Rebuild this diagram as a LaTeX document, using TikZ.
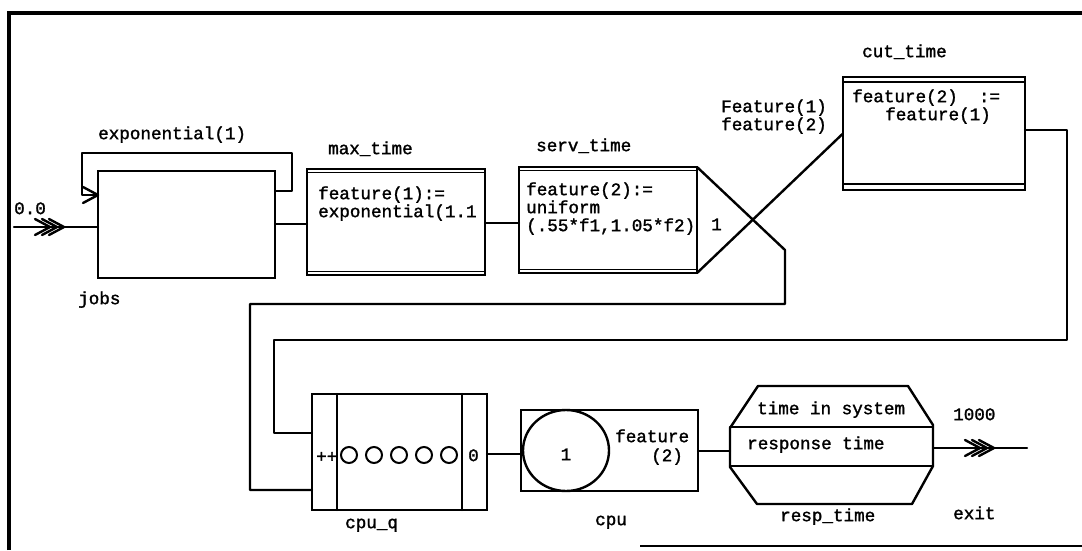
\documentclass[tikz,border=0pt]{standalone}
\usepackage{fontspec}
\setmonofont{Liberation Mono}
\newfontfamily\scanmono[RawFeature={embolden=1.6}]{Liberation Mono}
\newcommand\mychev[1]{\draw[conn] ([shift={(-15,-8)}]#1) -- (#1) -- ([shift={(-15,8)}]#1);}
\begin{document}
\begin{tikzpicture}[x=1pt,y=-1pt,
  conn/.style={line width=2.4pt, line cap=round, line join=round},
  boxst/.style={draw, line width=2.5pt, inner sep=0pt, outer sep=0pt, anchor=north west},
  txt/.style={font=\scanmono\fontsize{17.6}{20}\selectfont, inner sep=0pt, anchor=mid west},
  dbl/.style={line width=1.4pt}]
\useasboundingbox (0,0) rectangle (1082,550);

% frame
\draw[line width=4pt] (9,550) -- (9,13) -- (1082,13);
\draw[line width=2.5pt] (640,546) -- (1082,546);

% jobs
\node[boxst, minimum width=177pt, minimum height=107pt] (jobs) at (98,171) {};
\node[txt] (jobslbl) at (78,302) {jobs};
\node[txt] (explbl) at (98,137) {exponential(1)};
\node[txt] (zero) at (14,212) {0.0};
\coordinate (in) at (14,227);
\draw[conn] (in) -- (in -| jobs.west);
\coordinate (inA) at (50,227);
\coordinate (inB) at (57,227);
\coordinate (inC) at (64,227);
\mychev{inA}\mychev{inB}\mychev{inC}
\coordinate (fbA) at (292,191);
\coordinate (fbB) at (292,153);
\coordinate (fbC) at (82,153);
\coordinate (fbD) at (82,195);
\draw[conn] (jobs.east |- fbA) -- (fbA) -- (fbB) -- (fbC) -- (fbD) -- (jobs.west |- fbD);
\coordinate (fbtip) at (jobs.west |- fbD);
\mychev{fbtip}

% max_time
\node[boxst, minimum width=178pt, minimum height=106pt] (max) at (307,169) {};
\draw[dbl] ([yshift=-3.5pt]max.north west) -- ([yshift=-3.5pt]max.north east);
\draw[dbl] ([yshift=3.5pt]max.south west) -- ([yshift=3.5pt]max.south east);
\node[txt] (maxlbl) at (328,152) {max\_time};
\node[txt] (maxt1) at (318,197) {feature(1):=};
\node[txt] (maxt2) at (318,215) {exponential(1.1};
\coordinate (jm) at (0,224);
\draw[conn] (jobs.east |- jm) -- (max.west |- jm);

% serv_time
\node[boxst, minimum width=178pt, minimum height=106pt] (serv) at (519,167) {};
\draw[dbl] ([yshift=-3.5pt]serv.north west) -- ([yshift=-3.5pt]serv.north east);
\draw[dbl] ([yshift=3.5pt]serv.south west) -- ([yshift=3.5pt]serv.south east);
\node[txt] (servlbl) at (536,149) {serv\_time};
\node[txt] (servt1) at (526,193) {feature(2):=};
\node[txt] (servt2) at (526,211) {uniform};
\node[txt] (servt3) at (526,229) {(.55*f1,1.05*f2)};
\coordinate (ms) at (0,223);
\draw[conn] (max.east |- ms) -- (serv.west |- ms);

% gate
\node[txt] (gate) at (711,228) {1};
\node[txt] (f1lbl) at (721,110) {Feature(1)};
\node[txt] (f2lbl) at (721,128) {feature(2)};

% cut_time
\node[boxst, minimum width=182pt, minimum height=113pt] (cut) at (843,77) {};
\draw[dbl] ([yshift=-5pt]cut.north west) -- ([yshift=-5pt]cut.north east);
\draw[dbl] ([yshift=6pt]cut.south west) -- ([yshift=6pt]cut.south east);
\node[txt] (cutlbl) at (862,55) {cut\_time};
\node[txt] (cutt1) at (852,100) {feature(2)\ \ :=};
\node[txt] (cutt2) at (885,118) {feature(1)};
\draw[conn] (serv.south east) -- (cut.west);

% cpu_q
\node[boxst, minimum width=175pt, minimum height=116pt] (cpuq) at (312,394) {};
\draw[conn] ([xshift=25pt]cpuq.north west) -- ([xshift=25pt]cpuq.south west);
\draw[conn] ([xshift=-25pt]cpuq.north east) -- ([xshift=-25pt]cpuq.south east);
\foreach \cx in {349,374,399,424,449} \draw[line width=2pt] (\cx,455) ellipse [x radius=8pt, y radius=8pt];
\node[txt] (plus) at (316,460) {++};
\node[txt] (zeroq) at (468,459) {0};
\node[txt] (cpuqlbl) at (345,526) {cpu\_q};

% paths into cpu_q
\coordinate (oA) at (785,250);
\coordinate (oB) at (785,304);
\coordinate (oC) at (250,304);
\coordinate (oD) at (250,490);
\draw[conn] (serv.north east) -- (oA) -- (oB) -- (oC) -- (oD) -- (cpuq.west |- oD);
\coordinate (iA) at (1067,130);
\coordinate (iB) at (1067,340);
\coordinate (iC) at (274,340);
\coordinate (iD) at (274,433);
\draw[conn] (cut.east |- iA) -- (iA) -- (iB) -- (iC) -- (iD) -- (cpuq.west |- iD);

% cpu
\node[boxst, minimum width=177pt, minimum height=81pt] (cpu) at (521,410) {};
\draw[line width=2.4pt] (566,450.5) ellipse [x radius=43pt, y radius=40.5pt];
\node[txt, anchor=mid] (one) at (566,458) {1};
\node[txt] (cpuf1) at (615,440) {feature};
\node[txt] (cpuf2) at (651,459) {(2)};
\node[txt] (cpulbl) at (595,523) {cpu};
\coordinate (qc) at (0,454);
\draw[conn] (cpuq.east |- qc) -- (cpu.west |- qc);

% resp_time
\node[inner sep=0pt, outer sep=0pt, minimum width=203pt, minimum height=118pt, anchor=north west] (resp) at (730,386) {};
\draw[conn] (758,386) -- (908,386) -- (933,425) -- (933,466) -- (912,504) -- (757,504) -- (730,467) -- (730,428) -- cycle;
\draw[conn] (730,427) -- (933,427);
\draw[conn] (730,466) -- (933,466);
\node[txt] (tis) at (757,412) {time in system};
\node[txt] (rt) at (747,447) {response time};
\node[txt] (resplbl) at (780,519) {resp\_time};
\coordinate (cr) at (0,451);
\draw[conn] (cpu.east |- cr) -- (resp.west |- cr);

% exit
\coordinate (exitpt) at (1027,448);
\draw[conn] (resp.east |- exitpt) -- (exitpt);
\coordinate (eA) at (980,448);
\coordinate (eB) at (987,448);
\coordinate (eC) at (994,448);
\mychev{eA}\mychev{eB}\mychev{eC}
\node[txt] (thousand) at (953,418) {1000};
\node[txt] (exitlbl) at (953,517) {exit};
\end{tikzpicture}
\end{document}
